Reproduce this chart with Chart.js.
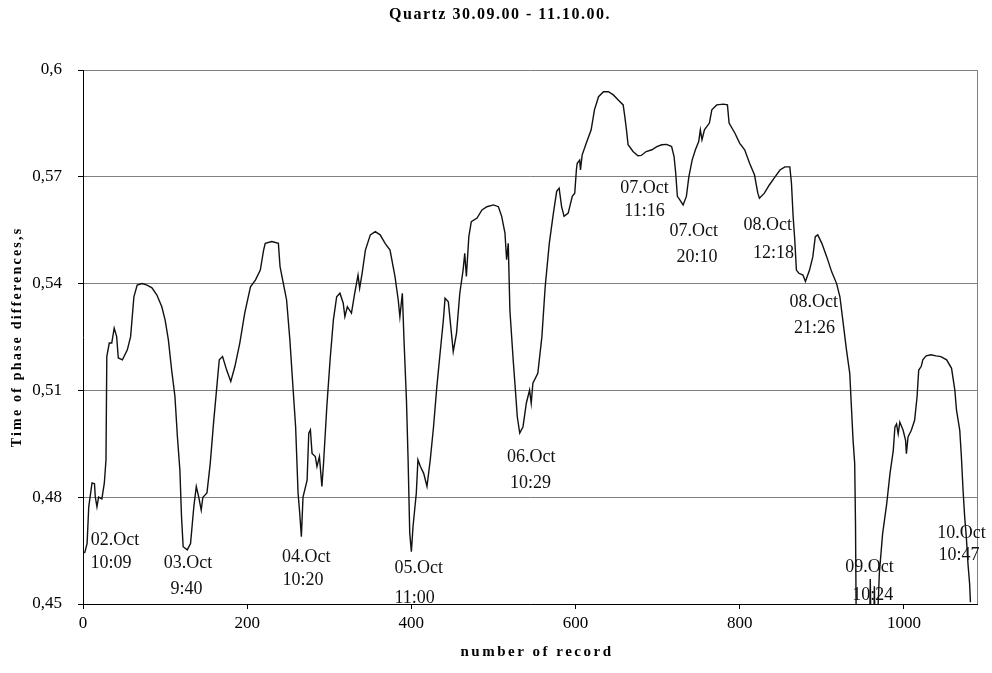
<!DOCTYPE html>
<html>
<head>
<meta charset="utf-8">
<title>Quartz 30.09.00 - 11.10.00.</title>
<script src="https://cdn.jsdelivr.net/npm/chart.js@4.4.1/dist/chart.umd.min.js"></script>
<style>
  html, body { margin: 0; padding: 0; background: #fff; }
  #wrap { width: 992px; height: 673px; }
</style>
</head>
<body>
<div id="wrap"><canvas id="quartzChart" width="992" height="673"></canvas></div>
<script>
// number of record / time of phase differences (s)
var records = [
    2, 5, 7, 11, 14, 15, 17, 19, 23, 26,
    28, 29, 32, 35, 38, 41, 43, 48, 54, 58,
    60, 62, 66, 72, 78, 84, 90, 96, 100, 104,
    108, 112, 115, 118, 120, 122, 127, 131, 135, 138,
    141, 144, 146, 151, 155, 159, 163, 166, 170, 175,
    180, 185, 191, 197, 204, 210, 216, 220, 222, 230,
    238, 240, 244, 248, 252, 256, 259, 262, 264, 266,
    268, 273, 275, 277, 279, 283, 285, 288, 291, 293,
    297, 301, 305, 309, 313, 317, 319, 322, 327, 331,
    335, 337, 340, 344, 350, 356, 362, 368, 374, 380,
    384, 386, 389, 391, 394, 396, 398, 400, 402, 406,
    408, 411, 415, 419, 423, 427, 431, 435, 439, 441,
    445, 448, 451, 455, 459, 463, 465, 467, 470, 473,
    480, 486, 492, 500, 506, 510, 514, 516, 518, 520,
    524, 527, 529, 532, 536, 540, 544, 546, 548, 554,
    559, 563, 568, 573, 577, 580, 583, 586, 591, 596,
    599, 601, 602, 605, 606, 608, 613, 619, 623, 628,
    634, 640, 646, 652, 658, 660, 662, 664, 670, 676,
    680, 686, 693, 699, 705, 711, 717, 720, 722, 724,
    727, 731, 735, 738, 742, 746, 750, 752, 754, 757,
    763, 766, 772, 780, 785, 787, 794, 800, 806, 812,
    818, 822, 824, 830, 836, 843, 849, 855, 861, 863,
    865, 867, 869, 872, 877, 880, 885, 889, 892, 895,
    900, 906, 912, 918, 922, 926, 930, 934, 936, 938,
    940, 941, 942, 958, 959, 960, 961, 963, 964, 965,
    967, 970, 974, 979, 983, 987, 989, 991, 993, 995,
    999, 1002, 1003, 1005, 1009, 1013, 1016, 1018, 1021, 1023,
    1027, 1033, 1039, 1045, 1052, 1058, 1062, 1064, 1068, 1070,
    1072, 1074, 1076, 1078, 1080, 1081
];
var phase = [
    .4643, .467, .4773, .484, .4838, .480, .4773, .480, .4795, .484,
    .4905, .5195, .5233, .5233, .5275, .5251, .5191, .5186, .5214, .5251,
    .5307, .5363, .5396, .54, .5396, .5388, .5368, .5335, .5298, .5242,
    .5157, .5083, .497, .4877, .4745, .4661, .4652, .467, .4773, .483,
    .480, .4764, .480, .4812, .4895, .5008, .511, .5186, .5195, .5157,
    .5125, .5167, .5233, .5317, .5391, .541, .5438, .5494, .5513, .5518,
    .5513, .5448, .5401, .5354, .5242, .5101, .4998, .4811, .4755, .4689,
    .480, .4848, .498, .4989, .4923, .4914, .4886, .4914, .483, .4895,
    .5054, .5186, .5298, .5363, .5373, .5345, .5307, .5335, .5317, .5373,
    .5424, .5387, .5429, .5494, .5537, .5546, .5537, .5513, .5494, .542,
    .5354, .5307, .5373, .5242, .5073, .4905, .4699, .4647, .4717, .4811,
    .4905, .4886, .4867, .483, .4905, .4998, .511, .5205, .5298, .5359,
    .5349, .5279, .5209, .5261, .5373, .5438, .5485, .542, .5532, .5574,
    .5584, .5607, .5616, .5621, .5616, .5589, .5542, .5467, .5513, .5326,
    .5186, .5092, .5026, .498, .4998, .5064, .5101, .5064, .512, .5148,
    .5251, .5391, .5513, .5598, .5659, .5668, .5616, .5589, .5598, .5645,
    .5654, .5719, .5738, .5747, .5719, .5761, .5794, .5832, .5888, .5925,
    .5939, .5939, .593, .5916, .5902, .5869, .5832, .579, .5771, .5759,
    .576, .5771, .5776, .5785, .579, .5791, .5785, .5757, .571, .5645,
    .5635, .5621, .5645, .57, .5747, .5776, .5799, .5832, .5804, .5832,
    .5851, .5888, .5902, .5904, .5902, .5851, .5823, .5794, .5776, .5738,
    .5705, .5654, .564, .5654, .5677, .57, .5719, .5728, .5728, .5682,
    .5589, .5523, .5438, .5429, .5424, .5406, .5438, .5475, .5532, .5537,
    .5513, .5475, .5433, .54, .5363, .5289, .5214, .5148, .5054, .4961,
    .4895, .4726, .44, .44, .457, .44, .44, .44, .455, .44,
    .44, .4585, .4697, .4781, .4866, .4931, .4997, .5006, .4978, .5011,
    .4988, .496, .4922, .4969, .4988, .5016, .5082, .5157, .5167, .5186,
    .5197, .52, .5197, .5195, .5186, .5162, .5101, .5045, .4988, .4913,
    .482, .4744, .4688, .4613, .4557, .4505
];

var xTicks = [0, 200, 400, 600, 800, 1000];
var yTicks = [0.45, 0.48, 0.51, 0.54, 0.57, 0.6];
var yTickLabels = ['0,45', '0,48', '0,51', '0,54', '0,57', '0,6'];

var chartTitle = 'Quartz 30.09.00 - 11.10.00.';
var xTitle = 'number of record';
var yTitle = 'Time of phase differences,s';

// notes written on the plot: date line and time line, placed in data units
var noteDay = ['02.Oct', '03.Oct', '04.Oct', '05.Oct', '06.Oct', '07.Oct', '07.Oct', '08.Oct', '08.Oct', '09.Oct', '10.Oct'];
var noteTime = ['10:09', '9:40', '10:20', '11:00', '10:29', '11:16', '20:10', '12:18', '21:26', '10:24', '10:47'];
var noteDayRecord = [39, 128, 272, 409, 546, 684, 744, 834, 890, 958, 1070];
var noteTimeRecord = [34, 126, 268, 404, 545, 684, 748, 841, 891, 962, 1067];
var noteDayValue = [.4678, .4614, .4631, .46, .4912, .5667, .5546, .5563, .5347, .4603, .4698];
var noteTimeValue = [.4614, .4541, .4566, .4517, .4838, .5602, .5473, .5485, .5274, .4524, .4636];

document.addEventListener('DOMContentLoaded', function () {
    var serif = '"Liberation Serif", "Times New Roman", serif';

    var points = records.map(function (r, i) { return { x: r, y: phase[i] }; });

    // titles, right frame line and the date notes
    var extras = {
        id: 'extras',
        afterDraw: function (chart) {
            var ctx = chart.ctx;
            var area = chart.chartArea;
            var sx = chart.scales.x;
            var sy = chart.scales.y;
            ctx.save();

            ctx.strokeStyle = '#808080';
            ctx.lineWidth = 1;
            ctx.beginPath();
            ctx.moveTo(Math.round(area.right) + 0.5, area.top);
            ctx.lineTo(Math.round(area.right) + 0.5, area.bottom);
            ctx.stroke();

            ctx.fillStyle = '#111';
            ctx.textAlign = 'center';
            ctx.textBaseline = 'middle';
            ctx.font = '18px ' + serif;
            for (var i = 0; i < noteDay.length; i++) {
                ctx.fillText(noteDay[i], sx.getPixelForValue(noteDayRecord[i]), sy.getPixelForValue(noteDayValue[i]));
                ctx.fillText(noteTime[i], sx.getPixelForValue(noteTimeRecord[i]), sy.getPixelForValue(noteTimeValue[i]));
            }

            ctx.fillStyle = '#000';
            ctx.font = 'bold 16px ' + serif;
            ctx.letterSpacing = '1.5px';
            ctx.fillText(chartTitle, 500, 15);

            ctx.font = 'bold 15px ' + serif;
            ctx.letterSpacing = '2.5px';
            ctx.fillText(xTitle, 537, 652);

            ctx.font = 'bold 14px ' + serif;
            ctx.letterSpacing = '2.2px';
            ctx.translate(17, (area.top + area.bottom) / 2);
            ctx.rotate(-Math.PI / 2);
            ctx.fillText(yTitle, 0, 0);

            ctx.restore();
        }
    };

    var ctx1 = document.getElementById('quartzChart').getContext('2d');
    var quartzChart = new Chart(ctx1, {
        type: 'line',
        data: {
            datasets: [{
                label: 'Quartz',
                data: points,
                borderColor: '#111',
                borderWidth: 1.4,
                pointRadius: 0,
                tension: 0,
                fill: false
            }]
        },
        options: {
            responsive: false,
            animation: false,
            layout: { padding: { top: 70, right: 15, left: 0, bottom: 0 } },
            plugins: {
                legend: { display: false },
                tooltip: { enabled: false },
                title: { display: false }
            },
            scales: {
                x: {
                    type: 'linear',
                    min: 0,
                    max: 1089,
                    afterBuildTicks: function (scale) {
                        scale.ticks = xTicks.map(function (v) { return { value: v }; });
                    },
                    afterFit: function (scale) { scale.height = 69; },
                    grid: { drawOnChartArea: false, drawTicks: true, tickLength: 5, tickColor: '#000' },
                    border: { color: '#000', width: 1 },
                    ticks: {
                        font: { family: serif, size: 17 },
                        color: '#000',
                        padding: 4,
                        maxRotation: 0,
                        autoSkip: false,
                        callback: function (value) { return String(value); }
                    }
                },
                y: {
                    min: 0.45,
                    max: 0.6,
                    afterBuildTicks: function (scale) {
                        scale.ticks = yTicks.map(function (v) { return { value: v }; });
                    },
                    afterFit: function (scale) { scale.width = 83; },
                    grid: { color: '#808080', lineWidth: 1, tickLength: 5, tickColor: '#000' },
                    border: { color: '#000', width: 1 },
                    ticks: {
                        font: { family: serif, size: 17 },
                        color: '#000',
                        padding: 16,
                        callback: function (value, index) { return yTickLabels[index]; }
                    }
                }
            }
        },
        plugins: [extras]
    });
});
</script>
</body>
</html>
